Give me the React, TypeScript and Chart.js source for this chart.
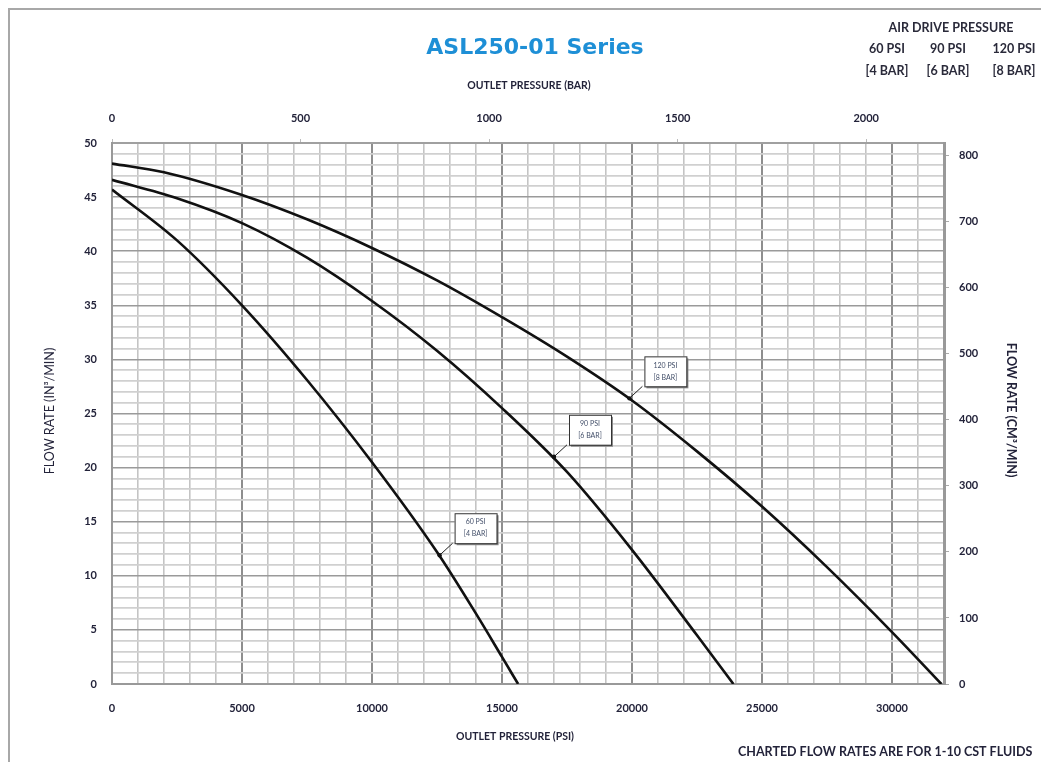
import React, { useEffect, useRef } from 'react';
import { Chart, registerables } from 'chart.js';
Chart.register(...registerables);

// ---- data ----
const psi60 = [0, 2500, 5000, 7500, 10000, 12500, 14000, 15000, 15620];
const flow60 = [45.7, 41.0, 35.0, 28.1, 20.5, 12.2, 6.5, 2.5, 0];

const psi90 = [0, 2500, 5000, 7500, 10000, 12500, 15000, 17500, 20000, 22500, 23900];
const flow90 = [46.6, 44.9, 42.6, 39.4, 35.4, 30.8, 25.5, 19.6, 12.4, 4.5, 0];

const psi120 = [0, 2000, 5000, 7500, 10000, 12500, 15000, 17500, 20000, 22500, 25000, 27500, 30000, 31900];
const flow120 = [48.1, 47.3, 45.2, 42.95, 40.3, 37.3, 33.9, 30.25, 26.2, 21.5, 16.4, 10.8, 4.8, 0];

const barTicks = [0, 500, 1000, 1500, 2000];
const cm3Ticks = [0, 100, 200, 300, 400, 500, 600, 700, 800];

const labelPsi = [12600, 17000, 19900];
const labelFlow = [11.9, 21.0, 26.4];
const labelLine1 = ['60 PSI', '90 PSI', '120 PSI'];
const labelLine2 = ['[4 BAR]', '[6 BAR]', '[8 BAR]'];

const headerPsi = ['60 PSI', '90 PSI', '120 PSI'];
const headerBar = ['[4 BAR]', '[6 BAR]', '[8 BAR]'];

const PSI_MAX = 32000;
const FLOW_MAX = 50;
const PSI_PER_BAR = 14.5038;
const CM3_PER_IN3 = 16.387;

const TITLE = 'ASL250-01 Series';
const TOP_AXIS_TITLE = 'OUTLET PRESSURE (BAR)';
const BOTTOM_AXIS_TITLE = 'OUTLET PRESSURE (PSI)';
const LEFT_AXIS_TITLE = 'FLOW RATE (IN³/MIN)';
const RIGHT_AXIS_TITLE = 'FLOW RATE (CM³/MIN)';
const HEADER_TITLE = 'AIR DRIVE PRESSURE';
const NOTE = 'CHARTED FLOW RATES ARE FOR 1-10 CST FLUIDS';

const toPts = (xs: number[], ys: number[]) => xs.map((x, i) => ({ x, y: ys[i] }));

const TICK_FONT = { family: 'Lato', weight: 'bold' as const, size: 11 };
const TICK_COLOR = '#23233a';

const decor = {
  id: 'decor',
  afterDraw(chart: any) {
    const { ctx, scales } = chart;
    const xs = scales.x;
    const ys = scales.y;
    const area = chart.chartArea;
    ctx.save();
    // outer frame
    ctx.strokeStyle = '#a8a8a8';
    ctx.lineWidth = 2;
    ctx.beginPath();
    ctx.moveTo(9, 800);
    ctx.lineTo(9, 9);
    ctx.lineTo(1100, 9);
    ctx.stroke();

    // title
    ctx.fillStyle = '#1e8fd6';
    ctx.font = 'bold 22px "DejaVu Sans"';
    ctx.textAlign = 'center';
    ctx.textBaseline = 'middle';
    ctx.fillText(TITLE, 535, 48);

    // header (air drive pressure)
    ctx.fillStyle = '#2a2a3a';
    ctx.font = 'bold 12.5px Lato';
    ctx.fillText(HEADER_TITLE, 951, 28);
    const hx = [887, 948, 1014];
    headerPsi.forEach((t, i) => ctx.fillText(t, hx[i], 49));
    headerBar.forEach((t, i) => ctx.fillText(t, hx[i], 71));

    // axis titles
    ctx.font = 'bold 10.5px Lato';
    ctx.fillStyle = '#23233a';
    ctx.fillText(TOP_AXIS_TITLE, (area.left + area.right) / 2 + 1, 86);
    ctx.fillText(BOTTOM_AXIS_TITLE, (area.left + area.right) / 2 - 13, 737);

    ctx.save();
    ctx.translate(50, 411);
    ctx.rotate(-Math.PI / 2);
    ctx.font = '12.5px Lato';
    ctx.fillText(LEFT_AXIS_TITLE, 0, 0);
    ctx.restore();

    ctx.save();
    ctx.translate(1011, 410);
    ctx.rotate(Math.PI / 2);
    ctx.font = 'bold 12.5px Lato';
    ctx.fillText(RIGHT_AXIS_TITLE, 0, 0);
    ctx.restore();

    // note
    ctx.textAlign = 'left';
    ctx.font = 'bold 12.5px Lato';
    ctx.fillStyle = '#23233a';
    ctx.fillText(NOTE, 738, 752);

    // curve labels
    labelPsi.forEach((p, i) => {
      const px = xs.getPixelForValue(p);
      const py = ys.getPixelForValue(labelFlow[i]);
      const w = 42, h = 30;
      const bl = px + 15, bt = py - 42;
      ctx.strokeStyle = '#222';
      ctx.lineWidth = 1;
      ctx.beginPath();
      ctx.moveTo(px, py);
      ctx.lineTo(bl - 2, bt + h);
      ctx.stroke();
      ctx.fillStyle = '#111';
      ctx.beginPath();
      ctx.arc(px, py, 2.2, 0, Math.PI * 2);
      ctx.fill();
      ctx.fillStyle = '#8a8a8a';
      ctx.fillRect(bl + 2, bt + 2, w, h);
      ctx.fillStyle = '#fff';
      ctx.fillRect(bl, bt, w, h);
      ctx.strokeStyle = '#333';
      ctx.strokeRect(bl + 0.5, bt + 0.5, w, h);
      ctx.fillStyle = '#44506a';
      ctx.font = '7px Lato';
      ctx.textAlign = 'center';
      ctx.fillText(labelLine1[i], bl + w / 2, bt + 9);
      ctx.fillText(labelLine2[i], bl + w / 2, bt + 21);
    });
    ctx.restore();
  },
};

export default function App() {
  const ref = useRef<HTMLCanvasElement | null>(null);
  useEffect(() => {
    if (!ref.current) return;
    const lineStyle = {
      showLine: true,
      borderColor: '#111',
      borderWidth: 2.6,
      pointRadius: 0,
      cubicInterpolationMode: 'monotone' as const,
      fill: false,
    };
    const chart = new Chart(ref.current, {
      type: 'scatter',
      data: {
        datasets: [
          { label: '60 PSI', data: toPts(psi60, flow60), ...lineStyle },
          { label: '90 PSI', data: toPts(psi90, flow90), ...lineStyle },
          { label: '120 PSI', data: toPts(psi120, flow120), ...lineStyle },
        ],
      },
      options: {
        responsive: false,
        animation: false,
        devicePixelRatio: 1,
        layout: { padding: 0 },
        plugins: { legend: { display: false }, tooltip: { enabled: false } },
        scales: {
          x: {
            type: 'linear',
            position: 'bottom',
            min: 0,
            max: PSI_MAX,
            ticks: {
              stepSize: 1000,
              autoSkip: false,
              maxRotation: 0,
              padding: 18,
              font: TICK_FONT,
              color: TICK_COLOR,
              callback: (v: any) => (Number(v) % 5000 === 0 ? String(v) : ''),
            },
            grid: {
              drawTicks: false,
              color: (c: any) => (c.tick && c.tick.value % 5000 === 0 ? '#8e8e8e' : '#c4c4c4'),
              lineWidth: (c: any) => (c.tick && c.tick.value % 5000 === 0 ? 2 : 1.6),
            },
            border: { display: true, color: '#999', width: 2 },
            afterFit: (s: any) => { s.height = 78; },
          },
          xTop: {
            type: 'linear',
            position: 'top',
            min: 0,
            max: PSI_MAX / PSI_PER_BAR,
            afterBuildTicks: (s: any) => { s.ticks = barTicks.map((v) => ({ value: v })); },
            ticks: {
              autoSkip: false,
              maxRotation: 0,
              padding: 14,
              font: TICK_FONT,
              color: TICK_COLOR,
              callback: (v: any) => String(v),
            },
            grid: { drawOnChartArea: false, drawTicks: true, tickLength: 4, color: '#bbb' },
            border: { display: true, color: '#a0a0a0', width: 2 },
            afterFit: (s: any) => { s.height = 143; },
          },
          y: {
            type: 'linear',
            position: 'left',
            min: 0,
            max: FLOW_MAX,
            ticks: {
              stepSize: 1,
              autoSkip: false,
              padding: 15,
              font: TICK_FONT,
              color: TICK_COLOR,
              callback: (v: any) => (Number(v) % 5 === 0 ? String(v) : ''),
            },
            grid: {
              drawTicks: false,
              color: (c: any) => (c.tick && c.tick.value % 5 === 0 ? '#9a9a9a' : '#d0d0d0'),
              lineWidth: (c: any) => (c.tick && c.tick.value % 5 === 0 ? 1.6 : 1.8),
            },
            border: { display: true, color: '#999', width: 2 },
            afterFit: (s: any) => { s.width = 112; },
          },
          yRight: {
            type: 'linear',
            position: 'right',
            min: 0,
            max: FLOW_MAX * CM3_PER_IN3,
            afterBuildTicks: (s: any) => { s.ticks = cm3Ticks.map((v) => ({ value: v })); },
            ticks: {
              autoSkip: false,
              padding: 10,
              font: TICK_FONT,
              color: TICK_COLOR,
              callback: (v: any) => String(v),
            },
            grid: { drawOnChartArea: false, drawTicks: true, tickLength: 5, color: '#aaa' },
            border: { display: true, color: '#999', width: 3 },
            afterFit: (s: any) => { s.width = 97; },
          },
        },
      } as any,
      plugins: [decor],
    });
    return () => chart.destroy();
  }, []);
  return (
    <div style={{ position: 'fixed', left: 0, top: 0, width: 1041, height: 762, background: '#fff' }}>
      <canvas ref={ref} width={1041} height={762} style={{ width: 1041, height: 762, display: 'block' }} />
    </div>
  );
}
